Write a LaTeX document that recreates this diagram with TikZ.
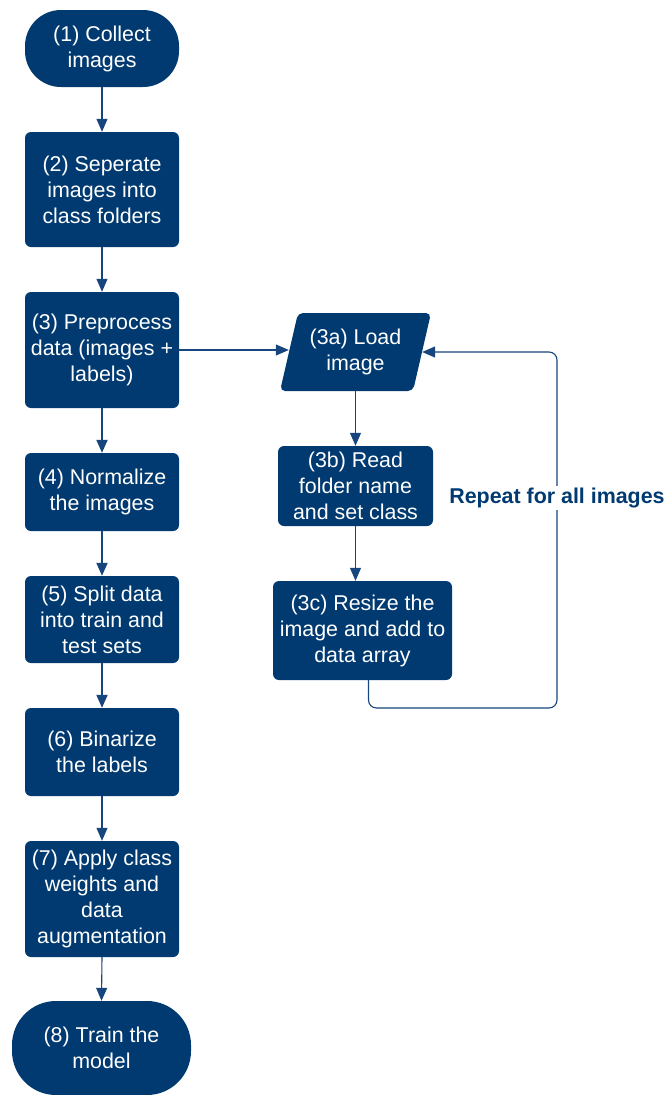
\documentclass[tikz,border=0pt]{standalone}
\usepackage{fontspec}
\setmainfont{Liberation Sans}
\usetikzlibrary{arrows.meta}
\definecolor{navy}{RGB}{0,58,112}
\definecolor{lnav}{RGB}{22,70,125}
\begin{document}
\begin{tikzpicture}[x=1pt,y=-1pt,
  box/.style={rectangle, rounded corners=6pt, fill=navy, text=white, align=center,
    minimum width=154pt, inner sep=0pt, font=\fontsize{21.4}{26}\selectfont},
  term/.style={box, rounded corners=36pt},
  arr/.style={draw=lnav, line width=1.1pt, -{Triangle[length=13pt,width=11pt]}},
  arrb/.style={arr, line width=2pt}]
\useasboundingbox (0,0) rectangle (669,1095);
\node[term, minimum height=77pt] (s1) at (102,48.5) {(1) Collect\\images};
\node[box, minimum height=115pt] (s2) at (102,189.5) {(2) Seperate\\images into\\class folders};
\node[box, minimum height=116pt] (s3) at (102,350) {(3) Preprocess\\data (images +\\labels)};
\node[box, minimum height=78pt] (s4) at (102,492) {(4) Normalize\\the images};
\node[box, minimum height=87pt] (s5) at (102,619.5) {(5) Split data\\into train and\\test sets};
\node[box, minimum height=88pt] (s6) at (102,752) {(6) Binarize\\the labels};
\node[box, minimum height=116pt] (s7) at (102,899) {(7) Apply class\\weights and\\data\\augmentation};
\node[term, minimum width=179pt, minimum height=94pt, rounded corners=44pt] (s8) at (101.5,1048) {(8) Train the\\model};
% parallelogram 3a
\fill[navy, rounded corners=5pt] (298,313) -- (431,313) -- (413,391) -- (280,391) -- cycle;
\node[box, fill=none, minimum width=133pt, minimum height=78pt] (a3) at (355.5,352) {(3a) Load\\image};
\node[box, minimum width=155pt, minimum height=80pt] (b3) at (355.5,486) {(3b) Read\\folder name\\and set class};
\node[box, minimum width=179pt, minimum height=99pt] (c3) at (362.5,630.5) {(3c) Resize the\\image and add to\\data array};
% connectors
\draw[arr] (s1.south) -- (s2.north);
\draw[arr] (s2.south) -- (s3.north);
\draw[arrb] (s3.south) -- (s4.north);
\draw[arrb] (s4.south) -- (s5.north);
\draw[arrb] (s5.south) -- (s6.north);
\draw[arr] (s6.south) -- (s7.north);
\draw[arr] (s7.south) -- (s8.north);
\draw[arr] (s3.east) -- (s3.east -| a3.west);
\draw[arr] (a3.south) -- (b3.north);
\draw[arr] (b3.south) -- (b3.south |- c3.north);
\coordinate (lp) at (557,708);
\draw[arr, rounded corners=8pt] ([xshift=6pt]c3.south) |- (lp) |- (a3.east);
\node[fill=white, text=navy, font=\bfseries\fontsize{21.4}{24}\selectfont, inner sep=2pt] (rep) at (557,498) {Repeat for all images};
\end{tikzpicture}
\end{document}
